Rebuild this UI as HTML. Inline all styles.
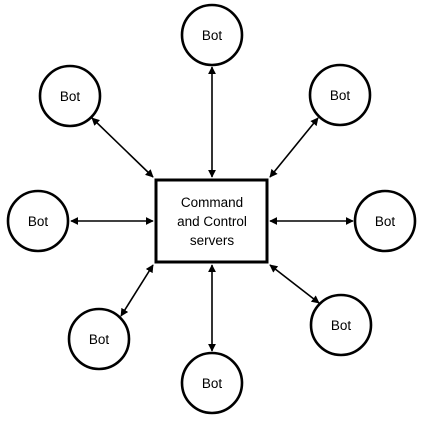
<!DOCTYPE html>
<html><head><meta charset="utf-8"><style>html,body{margin:0;padding:0;background:#fff}svg{display:block}text{font-family:"Liberation Sans",sans-serif;font-size:13.5px;fill:#000}</style></head><body>
<svg width="422" height="421" viewBox="0 0 422 421" xmlns="http://www.w3.org/2000/svg">
<defs><marker id="a" viewBox="0 0 10 10" refX="9" refY="5" markerWidth="5" markerHeight="5" orient="auto-start-reverse"><path d="M0,0L10,5L0,10z" fill="#000"/></marker></defs>
<g stroke="#000" stroke-width="1.6" marker-start="url(#a)" marker-end="url(#a)">
<line x1="212" y1="67" x2="212" y2="177"/>
<line x1="212" y1="265" x2="212" y2="351"/>
<line x1="71" y1="221" x2="153" y2="221"/>
<line x1="270" y1="221" x2="353" y2="221"/>
<line x1="92" y1="118" x2="153" y2="177"/>
<line x1="318" y1="118" x2="270" y2="177"/>
<line x1="121" y1="316" x2="153" y2="265"/>
<line x1="319" y1="303" x2="270" y2="265"/>
</g>
<rect x="156" y="180" width="111" height="82" fill="#fff" stroke="#000" stroke-width="3"/>
<text x="212" y="207" text-anchor="middle">Command</text>
<text x="212" y="226" text-anchor="middle">and Control</text>
<text x="212" y="245" text-anchor="middle">servers</text>
<g fill="#fff" stroke="#000" stroke-width="2.6">
<circle cx="212" cy="35" r="30"/><circle cx="70" cy="96" r="30"/><circle cx="340" cy="95" r="30"/>
<circle cx="38" cy="221" r="30"/><circle cx="385" cy="221" r="30"/><circle cx="99" cy="339" r="30"/>
<circle cx="212" cy="383" r="30"/><circle cx="341" cy="325" r="30"/>
</g>
<g text-anchor="middle">
<text x="212" y="40">Bot</text><text x="70" y="101">Bot</text><text x="340" y="100">Bot</text>
<text x="38" y="226">Bot</text><text x="385" y="226">Bot</text><text x="99" y="344">Bot</text>
<text x="212" y="388">Bot</text><text x="341" y="330">Bot</text>
</g>
</svg>
</body></html>
